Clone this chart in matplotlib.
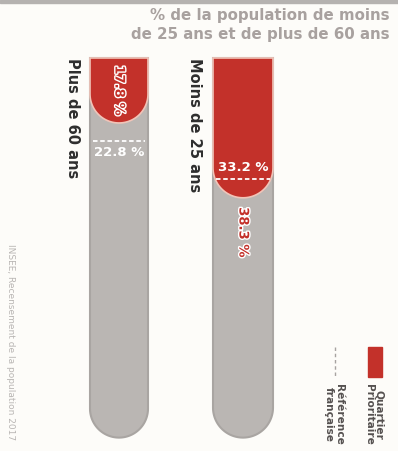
import numpy as np
import matplotlib
matplotlib.use('Agg')
import matplotlib.pyplot as plt
from matplotlib.path import Path
from matplotlib.patches import PathPatch, Rectangle
import matplotlib.patheffects as pe

# données
categories = ['Plus de 60 ans', 'Moins de 25 ans']
quartier = [17.8, 38.3]      # Quartier prioritaire (%)
reference = [22.8, 33.2]     # Référence française (%)
title = '% de la population de moins\nde 25 ans et de plus de 60 ans'
source = 'INSEE, Recensement de la population 2017'

# mise en page (pixels en x, pourcentage en y)
W, H = 398, 451
TOP_PX = 58
PX_PER_PCT = 3.65
TUBE_LEN = 104
tube_x = [(90, 148), (213, 273)]
label_x = [72, 195]
ref_label_dy = [3.2, -3.2]

RED = '#c3312a'
GRAY = '#bab6b3'
BG = '#fdfcf9'


def tube_path(x0, x1, yt, yb):
    """
    rectangle avec fond arrondi (demi-cercle en pixels)
    """
    cx = (x0 + x1) / 2
    r = (x1 - x0) / 2
    ry = r / PX_PER_PCT
    t = np.linspace(np.pi, 2 * np.pi, 60)
    xs = [x0, x0] + list(cx + r * np.cos(t)) + [x1, x1]
    ys = [yt, yb - ry] + list(yb - ry - ry * np.sin(t)) + [yb - ry, yt]
    verts = list(zip(xs, ys)) + [(x0, yt)]
    codes = [Path.MOVETO] + [Path.LINETO] * (len(verts) - 2) + [Path.CLOSEPOLY]
    return Path(verts, codes)


def px(y):
    # position verticale en pixels -> unités de l'axe
    return (y - TOP_PX) / PX_PER_PCT


fig = plt.figure(figsize=(W / 100, H / 100), dpi=100)
fig.patch.set_facecolor(BG)
ax = fig.add_axes([0, 0, 1, 1])
ax.set_facecolor(BG)
ax.set_xlim(0, W)
ax.set_ylim(px(H), px(0))
ax.axis('off')

# bande grise en haut
ax.add_patch(Rectangle((0, px(0)), W, 3 / PX_PER_PCT, color='#b5b2b0', zorder=1))

bold = dict(fontweight='bold', family='DejaVu Sans')
white_edge = [pe.withStroke(linewidth=2, foreground='white')]

for i, name in enumerate(categories):
    x0, x1 = tube_x[i]
    cx = (x0 + x1) / 2
    # tube gris
    ax.add_patch(PathPatch(tube_path(x0, x1, 0, TUBE_LEN), facecolor=GRAY,
                           edgecolor='#a9a5a2', lw=1.5, zorder=2))
    # remplissage rouge
    ax.add_patch(PathPatch(tube_path(x0, x1, 0, quartier[i]), facecolor=RED,
                           edgecolor='#f1c4b8', lw=1.2, zorder=3))
    # ligne de référence
    ax.plot([x0 + 3, x1 - 3], [reference[i], reference[i]], color='white',
            lw=1.3, ls=(0, (2.5, 1.5)), zorder=4)
    ax.text(cx, reference[i] + ref_label_dy[i], '%.1f %%' % reference[i],
            color='white', ha='center', va='center', fontsize=9.5, zorder=5, **bold)
    # valeur quartier
    if quartier[i] > reference[i]:
        qy = quartier[i] + 9.5
    else:
        qy = quartier[i] / 2
    ax.text(cx, qy, '%.1f %%' % quartier[i], color=RED, rotation=-90,
            ha='center', va='center', fontsize=9.5, zorder=5,
            path_effects=white_edge, **bold)
    # libellé catégorie
    ax.text(label_x[i], 0, name, rotation=-90, ha='center', va='top',
            color='#2e2e2e', fontsize=10.5, **bold)

# titre
ax.text(390, px(25), title, ha='right', va='center', zorder=5,
        color='#a8a19f', fontsize=10.8, linespacing=1.3, **bold)

# source
ax.text(10, px(244), source, rotation=-90, ha='center',
        va='top', color='#b9b6b4', fontsize=6.5)

# légende
ax.add_patch(Rectangle((368, px(347)), 14, px(377) - px(347), color=RED, zorder=3))
ax.plot([335, 335], [px(347), px(377)], color='#a7a3a1', lw=1, ls=(0, (2.5, 2)))
ax.text(374, px(384), 'Quartier\nPrioritaire', rotation=-90,
        ha='center', va='top', color='#555150', fontsize=7.6, linespacing=1.0, **bold)
ax.text(334, px(384), 'Référence\nfrançaise', rotation=-90,
        ha='center', va='top', color='#555150', fontsize=7.6, linespacing=1.0, **bold)

fig.savefig('out.png', dpi=100, facecolor=BG)
